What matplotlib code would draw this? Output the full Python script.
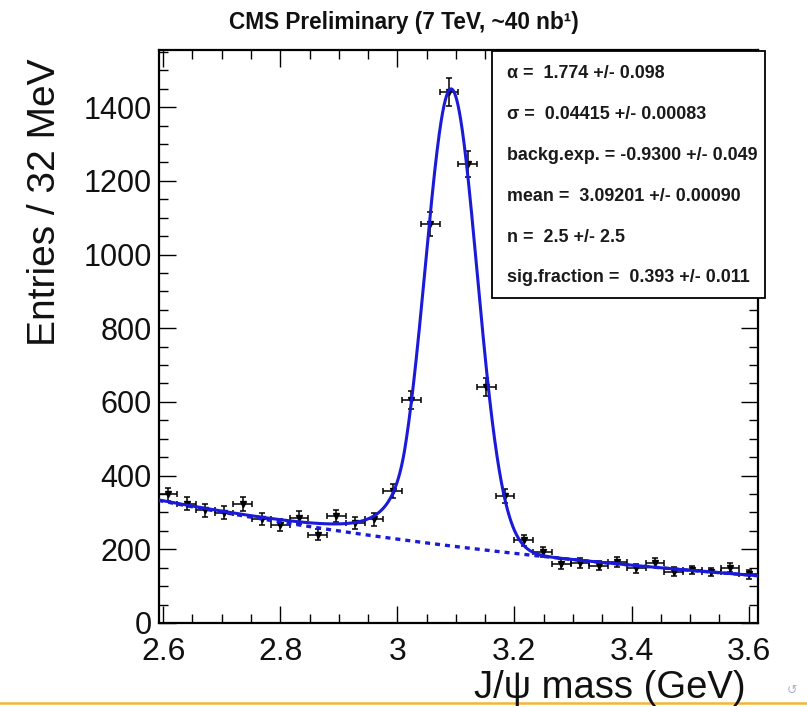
import numpy as np
import matplotlib.pyplot as plt
from matplotlib.lines import Line2D

plt.rcParams["font.family"] = ["Liberation Sans", "DejaVu Sans"]

# data (32 MeV bins)
bin_lo = 2.592
bin_w = 0.032
counts = [349, 324, 306, 299, 323, 283, 267, 286, 240, 290, 272, 281, 358,
          606, 1082, 1440, 1245, 640, 344, 224, 193, 160, 163, 155, 165,
          148, 164, 139, 144, 138, 150, 132]

# fit parameters shown in the stats box
alpha = 1.774
sigma = 0.04415
backg_exp = -0.9300
mean = 3.09201
n_cb = 2.5
sig_frac = 0.393

stats_lines = [
    "α =  1.774 +/- 0.098",
    "σ =  0.04415 +/- 0.00083",
    "backg.exp. = -0.9300 +/- 0.049",
    "mean =  3.09201 +/- 0.00090",
    "n =  2.5 +/- 2.5",
    "sig.fraction =  0.393 +/- 0.011",
]

counts = np.array(counts, dtype=float)
centers = bin_lo + bin_w * (np.arange(len(counts)) + 0.5)
x_lo, x_hi = bin_lo, bin_lo + bin_w * len(counts)


def crystal_ball(x):
    t = (x - mean) / sigma
    a = abs(alpha)
    A = (n_cb / a) ** n_cb * np.exp(-a * a / 2)
    B = n_cb / a - a
    out = np.exp(-t * t / 2)
    tail = t <= -a
    out[tail] = A * (B - t[tail]) ** (-n_cb)
    return out


xs = np.linspace(x_lo, x_hi, 2000)
sig = crystal_ball(xs)
sig /= np.trapezoid(sig, xs)
bkg = np.exp(backg_exp * xs)
bkg /= np.trapezoid(bkg, xs)
norm = counts.sum() * bin_w
total = norm * (sig_frac * sig + (1 - sig_frac) * bkg)
background = norm * (1 - sig_frac) * bkg

fig = plt.figure(figsize=(8.07, 7.07), dpi=100)
ax = fig.add_axes([158.5 / 807, 1 - 623 / 707, (758 - 158.5) / 807, (623 - 50) / 707])

ax.errorbar(centers, counts, xerr=bin_w / 2, yerr=np.sqrt(counts), fmt="v",
            color="black", ms=4, elinewidth=1.1, capsize=2.5, capthick=1.1, zorder=3)
ax.plot(xs, background, color="#1a1ad8", lw=2.4, ls=(0, (1.5, 1.5)), zorder=4)
ax.plot(xs, total, color="#1a1ad8", lw=2.2, zorder=5)

ax.set_xlim(x_lo, x_hi)
ax.set_ylim(0, 1555)
ax.set_xticks([2.6, 2.8, 3.0, 3.2, 3.4, 3.6])
ax.set_xticklabels(["2.6", "2.8", "3", "3.2", "3.4", "3.6"])
ax.set_xticks(np.arange(2.6, 3.62, 0.05), minor=True)
ax.set_yticks(np.arange(0, 1401, 200))
ax.set_yticks(np.arange(0, 1551, 50), minor=True)
ax.tick_params(which="both", direction="in", top=True, right=True, width=1,
               labelcolor="#111111")
ax.tick_params(which="major", length=12, labelsize=22)
ax.tick_params(axis="x", which="major", pad=10, labelsize=23)
ax.tick_params(axis="y", which="major", pad=5)
ax.tick_params(which="minor", length=6.5)
for s in ax.spines.values():
    s.set_linewidth(1.6)

# stats box
box = plt.Rectangle((492 / 807, 1 - 298 / 707), (765 - 492) / 807, (298 - 51) / 707,
                    transform=fig.transFigure, facecolor="white", edgecolor="black",
                    lw=1.3, zorder=10)
fig.add_artist(box)
for i, line in enumerate(stats_lines):
    y = 74 + i * 40.8
    fig.text(507 / 807, 1 - y / 707, line, fontsize=12.9, fontweight="bold",
             color="#1a1a1a", ha="left", va="center", zorder=11)

fig.text(0.5, 1 - 22 / 707, "CMS Preliminary (7 TeV, ~40 nb¹)", fontsize=16.3,
         fontweight="bold", color="#111111", ha="center", va="center")
fig.text(45 / 807, 1 - 58 / 707, "Entries / 32 MeV", fontsize=28, rotation=90,
         ha="center", va="top", color="#111111")
fig.text(746 / 807, 1 - 688 / 707, "J/ψ mass (GeV)", fontsize=27.5, ha="right",
         va="center", color="#111111")

# slide footer line and nav symbol
fig.add_artist(Line2D([0, 1], [1 - 703 / 707] * 2, color="#f2b632", lw=1.8))
fig.text(792 / 807, 1 - 690 / 707, "↺", fontsize=9, color="#aab4cc", ha="center", va="center",
         family="DejaVu Sans")

fig.savefig("out.png", dpi=100)
